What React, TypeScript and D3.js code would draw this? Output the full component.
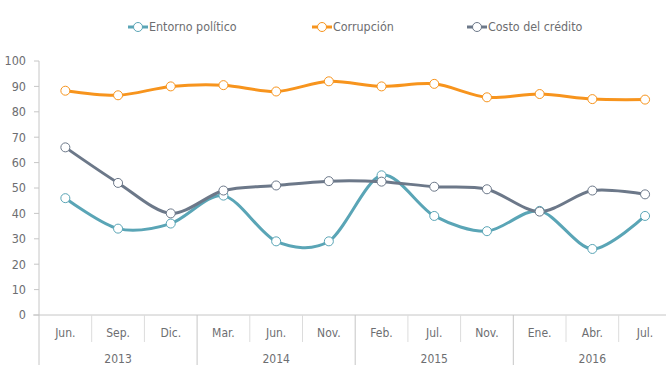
import * as d3 from "d3";

const months = ["Jun.", "Sep.", "Dic.", "Mar.", "Jun.", "Nov.", "Feb.", "Jul.", "Nov.", "Ene.", "Abr.", "Jul."];
const years = ["2013", "2014", "2015", "2016"];
const yearSpans = [3, 3, 3, 3];
const yTicks = [0, 10, 20, 30, 40, 50, 60, 70, 80, 90, 100];

const entorno = [46, 34, 36, 47, 29, 29, 55, 39, 33, 41, 26, 39];
const corrupcion = [88.3, 86.5, 90, 90.5, 88, 92, 90, 91, 85.7, 87, 85, 84.8];
const costo = [66, 52, 40, 49, 51, 52.7, 52.5, 50.5, 49.5, 40.7, 49, 47.5];

const seriesNames = ["Entorno político", "Corrupción", "Costo del crédito"];
const seriesColors = ["#5aa5b6", "#f7941d", "#6c7889"];

const width = 666;
const height = 365;
const marginLeft = 39;
const bandW = 52.7;
const yTop = 61;
const yBottom = 315;
const font = "'DejaVu Sans Condensed', 'DejaVu Sans', sans-serif";
const textColor = "#6d6e71";
const axisColor = "#c6c6c6";

export default function App() {
  const idx = months.map((_, i) => String(i));
  const x = d3.scaleBand(idx, [marginLeft, marginLeft + bandW * months.length]);
  const y = d3.scaleLinear([0, 100], [yBottom, yTop]);
  const cx = (i: number) => (x(String(i)) as number) + x.bandwidth() / 2;

  const line = d3
    .line<number>()
    .x((_, i) => cx(i))
    .y((v) => y(v))
    .curve(d3.curveCardinal.tension(0.1));

  const data = [entorno, corrupcion, costo];
  const legendX = [128, 312, 467];

  let acc = 0;
  const yearGroups = yearSpans.map((s, k) => {
    const start = acc;
    acc += s;
    return { label: years[k], start, end: acc };
  });
  const xAt = (i: number) => marginLeft + bandW * i;

  return (
    <div style={{ position: "absolute", left: 0, top: 0 }}>
      <svg width={width} height={height} style={{ display: "block", fontFamily: font }}>
        {/* legend */}
        {seriesNames.map((n, k) => (
          <g key={n} transform={`translate(${legendX[k]},27)`}>
            <line x1={0} x2={20} y1={0} y2={0} stroke={seriesColors[k]} strokeWidth={3} />
            <circle cx={10} cy={0} r={4.5} fill="white" stroke={seriesColors[k]} strokeWidth={1} />
            <text x={21} y={0} dy="0.35em" fontSize={12.4} fill={textColor}>
              {n}
            </text>
          </g>
        ))}

        {/* y axis */}
        <line x1={marginLeft} x2={marginLeft} y1={yTop} y2={height} stroke={axisColor} />
        {yTicks.map((t) => (
          <g key={t} transform={`translate(0,${y(t)})`}>
            <line x1={34} x2={marginLeft} stroke={axisColor} />
            <text x={26} dy="0.35em" textAnchor="end" fontSize={12.5} fill={textColor}>
              {t}
            </text>
          </g>
        ))}

        {/* x axis */}
        <line x1={33} x2={width} y1={yBottom} y2={yBottom} stroke={axisColor} />
        {months.map((m, i) => (
          <g key={i}>
            {i > 0 && i % 3 !== 0 && (
              <line x1={xAt(i)} x2={xAt(i)} y1={yBottom} y2={342} stroke="#dcdcdc" />
            )}
            <text x={cx(i)} y={333} dy="0.35em" textAnchor="middle" fontSize={12} fill={textColor}>
              {m}
            </text>
          </g>
        ))}
        {yearGroups.map((g) => (
          <g key={g.label}>
            {g.start > 0 && (
              <line x1={xAt(g.start)} x2={xAt(g.start)} y1={yBottom} y2={height} stroke={axisColor} />
            )}
            <text
              x={(xAt(g.start) + xAt(g.end)) / 2}
              y={359}
              dy="0.35em"
              textAnchor="middle"
              fontSize={12}
              fill={textColor}
            >
              {g.label}
            </text>
          </g>
        ))}

        {/* series */}
        {data.map((vals, k) => (
          <path key={k} d={line(vals) ?? ""} fill="none" stroke={seriesColors[k]} strokeWidth={3} />
        ))}
        {data.map((vals, k) =>
          vals.map((v, i) => (
            <circle key={`${k}-${i}`} cx={cx(i)} cy={y(v)} r={4.5} fill="white" stroke={seriesColors[k]} strokeWidth={1} />
          ))
        )}
      </svg>
    </div>
  );
}
